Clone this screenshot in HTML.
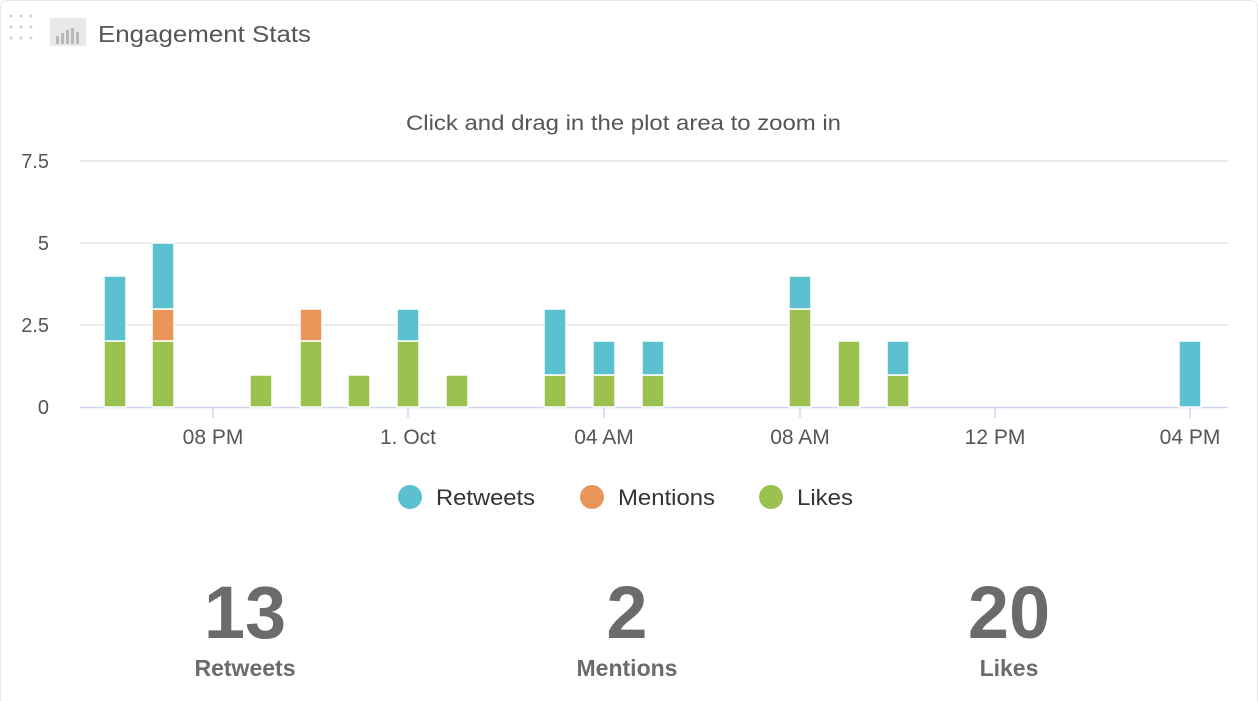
<!DOCTYPE html>
<html><head><meta charset="utf-8"><style>
html,body{margin:0;padding:0;background:#fff;}
svg{display:block;font-family:"Liberation Sans",Arial,sans-serif;}
</style></head><body>
<svg width="1258" height="701" viewBox="0 0 1258 701" xmlns="http://www.w3.org/2000/svg">
<rect x="0.5" y="0.5" width="1257" height="720" rx="6" fill="#fff" stroke="#e6e6e6"/>
<g fill="#cfcfcf">
<circle cx="11" cy="16" r="1.5"/><circle cx="21" cy="16" r="1.5"/><circle cx="31" cy="16" r="1.5"/>
<circle cx="11" cy="27" r="1.5"/><circle cx="21" cy="27" r="1.5"/><circle cx="31" cy="27" r="1.5"/>
<circle cx="11" cy="38" r="1.5"/><circle cx="21" cy="38" r="1.5"/><circle cx="31" cy="38" r="1.5"/>
</g>
<rect x="50" y="18" width="36" height="28" fill="#e8e8e8"/>
<g fill="#b8b8b8"><rect x="56" y="36" width="3" height="8"/><rect x="61" y="33" width="3" height="11"/><rect x="66" y="30" width="3" height="14"/><rect x="71" y="28" width="3" height="16"/><rect x="76" y="32" width="3" height="12"/></g>
<text x="98" y="42" font-size="23" fill="#555" textLength="213" lengthAdjust="spacingAndGlyphs">Engagement Stats</text>
<text x="406" y="130" font-size="21" fill="#555" textLength="435" lengthAdjust="spacingAndGlyphs">Click and drag in the plot area to zoom in</text>
<g stroke="#e4e4e4" stroke-width="1.5">
<line x1="80" y1="161" x2="1228" y2="161"/><line x1="80" y1="243" x2="1228" y2="243"/><line x1="80" y1="325" x2="1228" y2="325"/>
</g>
<line x1="80" y1="407.5" x2="1228" y2="407.5" stroke="#ccd6eb" stroke-width="1.5"/>
<g stroke="#ccd6eb" stroke-width="1.5">
<line x1="213" y1="408" x2="213" y2="418"/><line x1="408" y1="408" x2="408" y2="418"/><line x1="604" y1="408" x2="604" y2="418"/><line x1="800" y1="408" x2="800" y2="418"/><line x1="995" y1="408" x2="995" y2="418"/><line x1="1190" y1="408" x2="1190" y2="418"/>
</g>
<g font-size="20" fill="#555" text-anchor="end">
<text x="49" y="168">7.5</text><text x="49" y="250">5</text><text x="49" y="332">2.5</text><text x="49" y="414">0</text>
</g>
<g font-size="21" fill="#555" text-anchor="middle">
<text x="213" y="444">08 PM</text><text x="408" y="444">1. Oct</text><text x="604" y="444">04 AM</text><text x="800" y="444">08 AM</text><text x="995" y="444">12 PM</text><text x="1190" y="444">04 PM</text>
</g>
<g stroke="#fff" stroke-width="1.5">
<g fill="#9bc14f">
<rect x="104" y="341" width="22" height="66"/>
<rect x="152" y="341" width="22" height="66"/>
<rect x="250" y="375" width="22" height="32"/>
<rect x="300" y="341" width="22" height="66"/>
<rect x="348" y="375" width="22" height="32"/>
<rect x="397" y="341" width="22" height="66"/>
<rect x="446" y="375" width="22" height="32"/>
<rect x="544" y="375" width="22" height="32"/>
<rect x="593" y="375" width="22" height="32"/>
<rect x="642" y="375" width="22" height="32"/>
<rect x="789" y="309" width="22" height="98"/>
<rect x="838" y="341" width="22" height="66"/>
<rect x="887" y="375" width="22" height="32"/>
</g>
<g fill="#e8965a">
<rect x="152" y="309" width="22" height="32"/>
<rect x="300" y="309" width="22" height="32"/>
</g>
<g fill="#5bc0d0">
<rect x="104" y="276" width="22" height="65"/>
<rect x="152" y="243" width="22" height="66"/>
<rect x="397" y="309" width="22" height="32"/>
<rect x="544" y="309" width="22" height="66"/>
<rect x="593" y="341" width="22" height="34"/>
<rect x="642" y="341" width="22" height="34"/>
<rect x="789" y="276" width="22" height="33"/>
<rect x="887" y="341" width="22" height="34"/>
<rect x="1179" y="341" width="22" height="66"/>
</g>
</g>
<circle cx="410" cy="497" r="12" fill="#5bc0d0"/>
<text x="436" y="505" font-size="22" fill="#333" textLength="99" lengthAdjust="spacingAndGlyphs">Retweets</text>
<circle cx="592" cy="497" r="12" fill="#e8965a"/>
<text x="618" y="505" font-size="22" fill="#333" textLength="97" lengthAdjust="spacingAndGlyphs">Mentions</text>
<circle cx="771" cy="497" r="12" fill="#9bc14f"/>
<text x="797" y="505" font-size="22" fill="#333" textLength="56" lengthAdjust="spacingAndGlyphs">Likes</text>
<g fill="#6b6b6b" font-weight="bold" text-anchor="middle">
<text x="245" y="638" font-size="74">13</text>
<text x="627" y="638" font-size="74">2</text>
<text x="1009" y="638" font-size="74">20</text>
<text x="245" y="676" font-size="23">Retweets</text>
<text x="627" y="676" font-size="23">Mentions</text>
<text x="1009" y="676" font-size="23">Likes</text>
</g>
</svg>
</body></html>
